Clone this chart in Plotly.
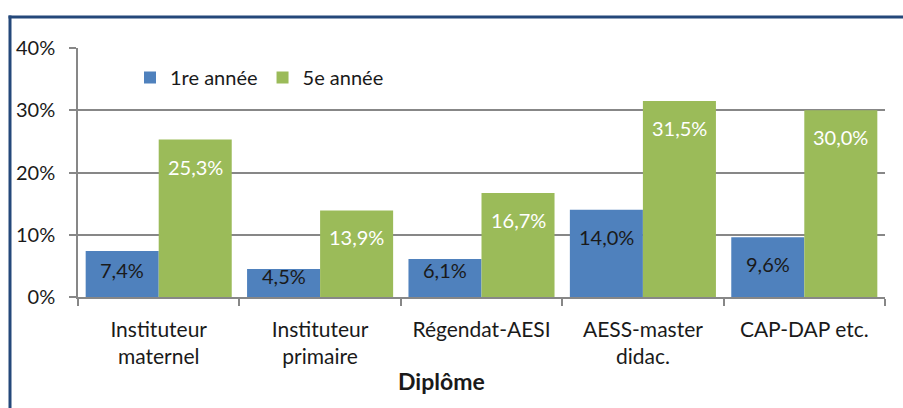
import plotly.graph_objects as go

categories = ["Instituteur<br>maternel", "Instituteur<br>primaire", "Régendat-AESI", "AESS-master<br>didac.", "CAP-DAP etc."]
first_year = [7.4, 4.5, 6.1, 14.0, 9.6]
fifth_year = [25.3, 13.9, 16.7, 31.5, 30.0]
y_ticks = [0, 10, 20, 30, 40]
y_tick_labels = ["0%", "10%", "20%", "30%", "40%"]

FONT = "Lato, 'Open Sans', sans-serif"
W, H = 903, 408
ml, mr, mt, mb = 78, 18, 48, 111
pw, ph = W - ml - mr, H - mt - mb
YMAX = 40
BARGAP = 0.095

def fmt(v):
    return f"{v:.1f}%".replace(".", ",")

def px_x(x):
    return (x - ml) / pw

def px_y(y):
    return 1 - (y - mt) / ph

fig = go.Figure()
fig.add_trace(go.Bar(name="1re année", x=categories, y=first_year,
                     marker=dict(color="#4F81BD", line=dict(width=0))))
fig.add_trace(go.Bar(name="5e année", x=categories, y=fifth_year,
                     marker=dict(color="#9BBB59", line=dict(width=0))))

# value labels, placed inside the top end of each bar
k = ph / YMAX
bar_w = pw / len(categories) * (1 - BARGAP) / 2
annotations = []
for series, color, xs in ((first_year, "#1a1a1a", -bar_w / 2), (fifth_year, "white", bar_w / 2)):
    for cat, v in zip(categories, series):
        h = v * k
        d = min(27, max(h - 27, h * 0.25))
        annotations.append(dict(x=cat, y=v, xref="x", yref="y", text=fmt(v), showarrow=False,
                                xanchor="center", yanchor="middle", xshift=xs, yshift=-d,
                                font=dict(size=20, family=FONT, color=color)))

annotations.append(dict(text="<b>Diplôme</b>", xref="paper", yref="paper", x=px_x(441), y=px_y(381),
                        xanchor="center", yanchor="middle", showarrow=False,
                        font=dict(size=23, family=FONT, color="#1a1a1a")))

fig.update_layout(
    width=W, height=H,
    margin=dict(l=ml, r=mr, t=mt, b=mb, autoexpand=False),
    paper_bgcolor="white", plot_bgcolor="white",
    barmode="group", bargap=BARGAP, bargroupgap=0,
    font=dict(family=FONT, size=20, color="#1a1a1a"),
    legend=dict(orientation="h", x=px_x(130), y=px_y(58), xanchor="left", yanchor="top",
                font=dict(size=20, family=FONT, color="#1a1a1a"), bgcolor="rgba(0,0,0,0)",
                itemwidth=30),
    xaxis=dict(
        type="category", showline=True, linecolor="#878787", linewidth=1.5,
        ticks="outside", tickson="boundaries", ticklen=7, tickcolor="#878787", tickwidth=1.5,
        tickfont=dict(size=21, family=FONT, color="#1a1a1a"), ticklabelstandoff=13,
        showgrid=False, automargin=False,
    ),
    yaxis=dict(
        range=[0, YMAX], tickvals=y_ticks, ticktext=y_tick_labels,
        showline=True, linecolor="#878787", linewidth=1.5,
        ticks="outside", ticklen=7, tickcolor="#878787", tickwidth=1.5,
        showgrid=True, gridcolor="#878787", gridwidth=1.5,
        tickfont=dict(size=20, family=FONT, color="#1a1a1a"), ticklabelstandoff=10,
        zeroline=False, automargin=False,
    ),
    shapes=[
        dict(type="line", xref="paper", yref="paper",
             x0=px_x(10), x1=px_x(10), y0=px_y(410), y1=px_y(15.5),
             line=dict(color="#24487A", width=3)),
        dict(type="line", xref="paper", yref="paper",
             x0=px_x(8.5), x1=px_x(905), y0=px_y(17), y1=px_y(17),
             line=dict(color="#24487A", width=3)),
    ],
    annotations=annotations,
)

fig.write_html("out.html", config={"displayModeBar": False},
               post_script="document.body.style.margin='0';document.body.style.overflow='hidden';")
